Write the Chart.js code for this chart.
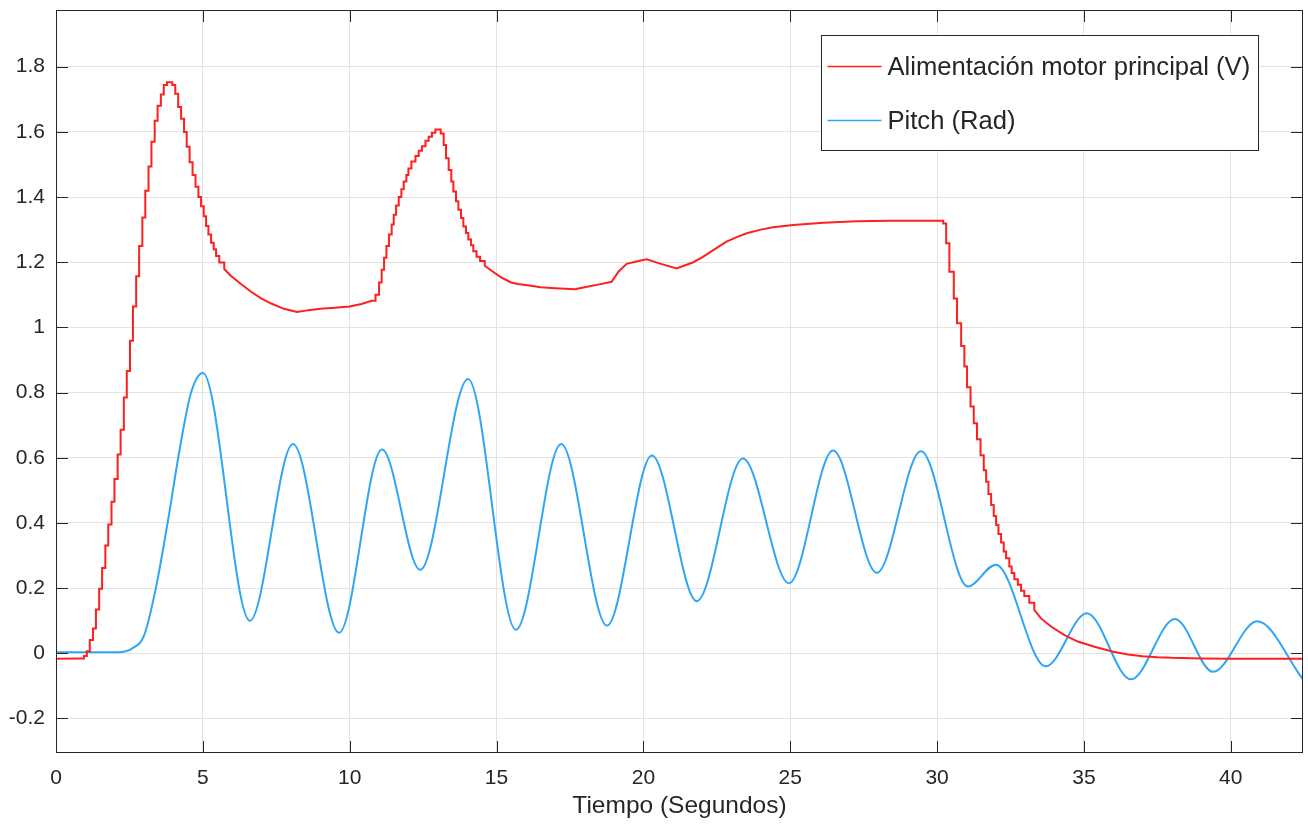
<!DOCTYPE html>
<html>
<head>
<meta charset="utf-8">
<title>Alimentación y pitch</title>
<script src="https://cdn.jsdelivr.net/npm/chart.js@4.4.0/dist/chart.umd.min.js"></script>
<style>
	html, body { margin: 0; padding: 0; background: #fff; }
	#wrap { width: 1308px; height: 830px; position: relative; }
</style>
</head>
<body>
<div id="wrap"><canvas id="pitch-chart"></canvas></div>
<script>
// motor supply (V), sampled by the controller, and pitch (rad) against time (s)
const motorTime = [
	0.00, 0.85, 0.95, 1.05, 1.15, 1.26, 1.36, 1.47, 1.57, 1.68, 1.78, 1.89, 1.99, 2.10, 2.20, 2.31,
	2.41, 2.52, 2.62, 2.73, 2.83, 2.94, 3.04, 3.15, 3.25, 3.36, 3.46, 3.57, 3.67, 3.78, 3.96, 4.06,
	4.16, 4.26, 4.36, 4.45, 4.55, 4.65, 4.75, 4.85, 4.94, 5.03, 5.11, 5.19, 5.28, 5.37, 5.45, 5.56,
	5.73, 5.96, 6.30, 6.63, 6.97, 7.31, 7.76, 8.21, 8.60, 9.00, 9.50, 10.00, 10.40, 10.75,
	10.88, 11.00, 11.09, 11.17, 11.25, 11.34, 11.43, 11.50, 11.58, 11.67, 11.76, 11.84, 11.93, 12.00,
	12.10, 12.24, 12.35, 12.46, 12.58, 12.69, 12.80, 12.92, 13.10, 13.20, 13.28, 13.37, 13.46, 13.53,
	13.62, 13.70, 13.79, 13.87, 13.96, 14.04, 14.13, 14.21, 14.32, 14.44, 14.60, 14.83, 15.17, 15.50,
	15.73, 16.18, 16.50, 17.00, 17.67, 18.00, 18.50, 18.92, 19.15, 19.43, 19.80, 20.11, 20.60, 21.13,
	21.40, 21.70, 22.00, 22.38, 22.83, 23.20, 23.52, 24.00, 24.42, 25.10, 26.13, 27.26, 28.40, 30.10,
	30.21, 30.31, 30.42, 30.57, 30.68, 30.82, 30.93, 31.02, 31.14, 31.25, 31.36, 31.48, 31.59, 31.67,
	31.75, 31.84, 31.93, 32.01, 32.09, 32.18, 32.27, 32.35, 32.46, 32.54, 32.63, 32.75, 32.86, 32.97,
	33.14, 33.31, 33.54, 33.88, 34.34, 34.79, 35.36, 36.00, 36.50, 37.00, 37.50, 38.00, 39.00, 40.00,
	42.46
];
const motorVolt = [
	-0.017, -0.016, -0.008, 0.006, 0.041, 0.076, 0.134, 0.198, 0.262, 0.331, 0.395, 0.465, 0.535, 0.610, 0.686, 0.785,
	0.866, 0.959, 1.064, 1.157, 1.250, 1.337, 1.419, 1.494, 1.570, 1.634, 1.680, 1.715, 1.744, 1.752, 1.744, 1.717,
	1.676, 1.640, 1.600, 1.554, 1.507, 1.468, 1.432, 1.400, 1.372, 1.341, 1.311, 1.285, 1.260, 1.240, 1.219, 1.199,
	1.179, 1.158, 1.133, 1.110, 1.090, 1.074, 1.057, 1.047, 1.053, 1.057, 1.060, 1.064, 1.072, 1.082,
	1.100, 1.138, 1.177, 1.214, 1.250, 1.285, 1.316, 1.346, 1.374, 1.400, 1.424, 1.448, 1.468, 1.488,
	1.509, 1.526, 1.542, 1.556, 1.573, 1.585, 1.597, 1.607, 1.595, 1.560, 1.519, 1.483, 1.448, 1.417,
	1.387, 1.361, 1.336, 1.310, 1.290, 1.270, 1.252, 1.234, 1.217, 1.204, 1.189, 1.174, 1.153, 1.138,
	1.133, 1.128, 1.123, 1.120, 1.117, 1.123, 1.132, 1.140, 1.171, 1.195, 1.203, 1.209, 1.195, 1.181,
	1.190, 1.200, 1.215, 1.237, 1.263, 1.278, 1.289, 1.300, 1.307, 1.314, 1.321, 1.326, 1.327, 1.327,
	1.319, 1.258, 1.171, 1.089, 1.013, 0.943, 0.880, 0.816, 0.757, 0.706, 0.657, 0.608, 0.562, 0.526,
	0.489, 0.455, 0.421, 0.394, 0.366, 0.340, 0.312, 0.292, 0.266, 0.246, 0.227, 0.210, 0.192, 0.176,
	0.155, 0.133, 0.107, 0.082, 0.056, 0.036, 0.020, 0.005, -0.004, -0.009, -0.012, -0.014, -0.016, -0.017,
	-0.017
];
const pitchTime = [
	0, 2.1, 2.6, 3.0, 3.4, 3.8, 4.2, 4.6, 5.0, 6.6, 8.07, 9.64, 11.1, 12.4, 14.03, 15.66, 17.2, 18.76,
	20.29, 21.82, 23.39, 24.96, 26.46, 27.95, 29.45, 31.05, 32.0, 33.7, 35.1, 36.6, 38.1, 39.4,
	40.9, 42.46
];
const pitchRad = [
	0.003, 0.003, 0.015, 0.055, 0.20, 0.40, 0.62, 0.80, 0.86, 0.10, 0.642, 0.063, 0.625, 0.256, 0.842, 0.072, 0.642, 0.085,
	0.607, 0.16, 0.598, 0.215, 0.622, 0.247, 0.62, 0.205, 0.272, -0.04, 0.123, -0.08, 0.105, -0.057,
	0.098, -0.08
];
const xTickValues = [0, 5, 10, 15, 20, 25, 30, 35, 40];
const yTickValues = [-0.2, 0, 0.2, 0.4, 0.6, 0.8, 1, 1.2, 1.4, 1.6, 1.8];

const fontFamily = "'Liberation Sans', Arial, Helvetica, sans-serif";
const axisColor = '#262626';

// samples closer than 0.2 s are held until the next one (zero-order hold)
function heldPoints(t, v) {
	const pts = [{ x: t[0], y: v[0] }];
	for (let i = 1; i < t.length; i++) {
		if (t[i] - t[i - 1] <= 0.2) pts.push({ x: t[i], y: v[i - 1] });
		pts.push({ x: t[i], y: v[i] });
	}
	return pts;
}

// box, inward ticks and the boxed legend
const axesBox = {
	id: 'axesBox',
	afterDatasetsDraw(chart) {
		const { ctx, chartArea: a, scales: { x, y } } = chart;
		const len = 12;
		ctx.save();
		ctx.strokeStyle = axisColor;
		ctx.lineWidth = 1;
		ctx.beginPath();
		x.ticks.forEach(t => {
			const px = Math.round(x.getPixelForValue(t.value)) + 0.5;
			ctx.moveTo(px, a.bottom); ctx.lineTo(px, a.bottom - len);
			ctx.moveTo(px, a.top); ctx.lineTo(px, a.top + len);
		});
		y.ticks.forEach(t => {
			const py = Math.round(y.getPixelForValue(t.value)) + 0.5;
			ctx.moveTo(a.left, py); ctx.lineTo(a.left + len, py);
			ctx.moveTo(a.right, py); ctx.lineTo(a.right - len, py);
		});
		ctx.stroke();
		ctx.strokeRect(a.left + 0.5, a.top + 0.5, a.right - a.left - 1, a.bottom - a.top - 1);

		// legend
		ctx.font = '25.6px ' + fontFamily;
		const sets = chart.data.datasets;
		const textW = Math.max(...sets.map(d => ctx.measureText(d.label).width));
		const boxW = Math.round(66 + textW + 8);
		const boxR = a.right - 45;
		const boxL = Math.round(boxR - boxW) + 0.5;
		const boxT = a.top + 25.5;
		const boxH = 115;
		ctx.fillStyle = '#fff';
		ctx.fillRect(boxL, boxT, boxW, boxH);
		ctx.strokeRect(boxL, boxT, boxW, boxH);
		ctx.textBaseline = 'middle';
		ctx.textAlign = 'left';
		sets.forEach((d, i) => {
			const cy = boxT + 31 + i * 54;
			ctx.strokeStyle = d.borderColor;
			ctx.lineWidth = 1.5;
			ctx.beginPath();
			ctx.moveTo(boxL + 6, cy);
			ctx.lineTo(boxL + 60, cy);
			ctx.stroke();
			ctx.fillStyle = axisColor;
			ctx.fillText(d.label, boxL + 66, cy + 1);
		});
		ctx.restore();
	}
};

new Chart(document.getElementById('pitch-chart'), {
	type: 'line',
	data: {
		datasets: [{
			label: 'Alimentación motor principal (V)',
			data: heldPoints(motorTime, motorVolt),
			borderColor: '#ff1f1f',
			borderWidth: 2,
			tension: 0,
		}, {
			label: 'Pitch (Rad)',
			data: pitchTime.map((t, i) => ({ x: t, y: pitchRad[i] })),
			borderColor: '#2ea6f5',
			borderWidth: 2,
			cubicInterpolationMode: 'monotone',
		}]
	},
	options: {
		responsive: true,
		maintainAspectRatio: false,
		animation: false,
		layout: { padding: { top: 10, right: 5, left: 0, bottom: 0 } },
		elements: { point: { radius: 0 } },
		plugins: { legend: { display: false }, tooltip: { enabled: false } },
		scales: {
			x: {
				type: 'linear',
				min: 0,
				max: 42.46,
				afterBuildTicks: s => { s.ticks = xTickValues.map(v => ({ value: v })); },
				afterFit: s => { s.height = 77; s.paddingLeft = 0; s.paddingRight = 0; },
				grid: { color: '#e3e3e3', drawTicks: false },
				border: { display: false },
				ticks: {
					autoSkip: false, maxRotation: 0, padding: 13, color: axisColor,
					font: { family: fontFamily, size: 21 },
					callback: v => String(v)
				},
				title: {
					display: true, text: 'Tiempo (Segundos)', color: axisColor,
					font: { family: fontFamily, size: 24.5 },
					padding: { top: 0, bottom: 9 }
				}
			},
			y: {
				min: -0.306,
				max: 1.974,
				afterBuildTicks: s => { s.ticks = yTickValues.map(v => ({ value: v })); },
				afterFit: s => { s.width = 56; s.paddingTop = 0; s.paddingBottom = 0; },
				grid: { color: '#e3e3e3', drawTicks: false },
				border: { display: false },
				ticks: {
					autoSkip: false, padding: 11, color: axisColor,
					font: { family: fontFamily, size: 21 },
					callback: v => String(Math.round(v * 10) / 10)
				}
			}
		}
	},
	plugins: [axesBox]
});
</script>
</body>
</html>
